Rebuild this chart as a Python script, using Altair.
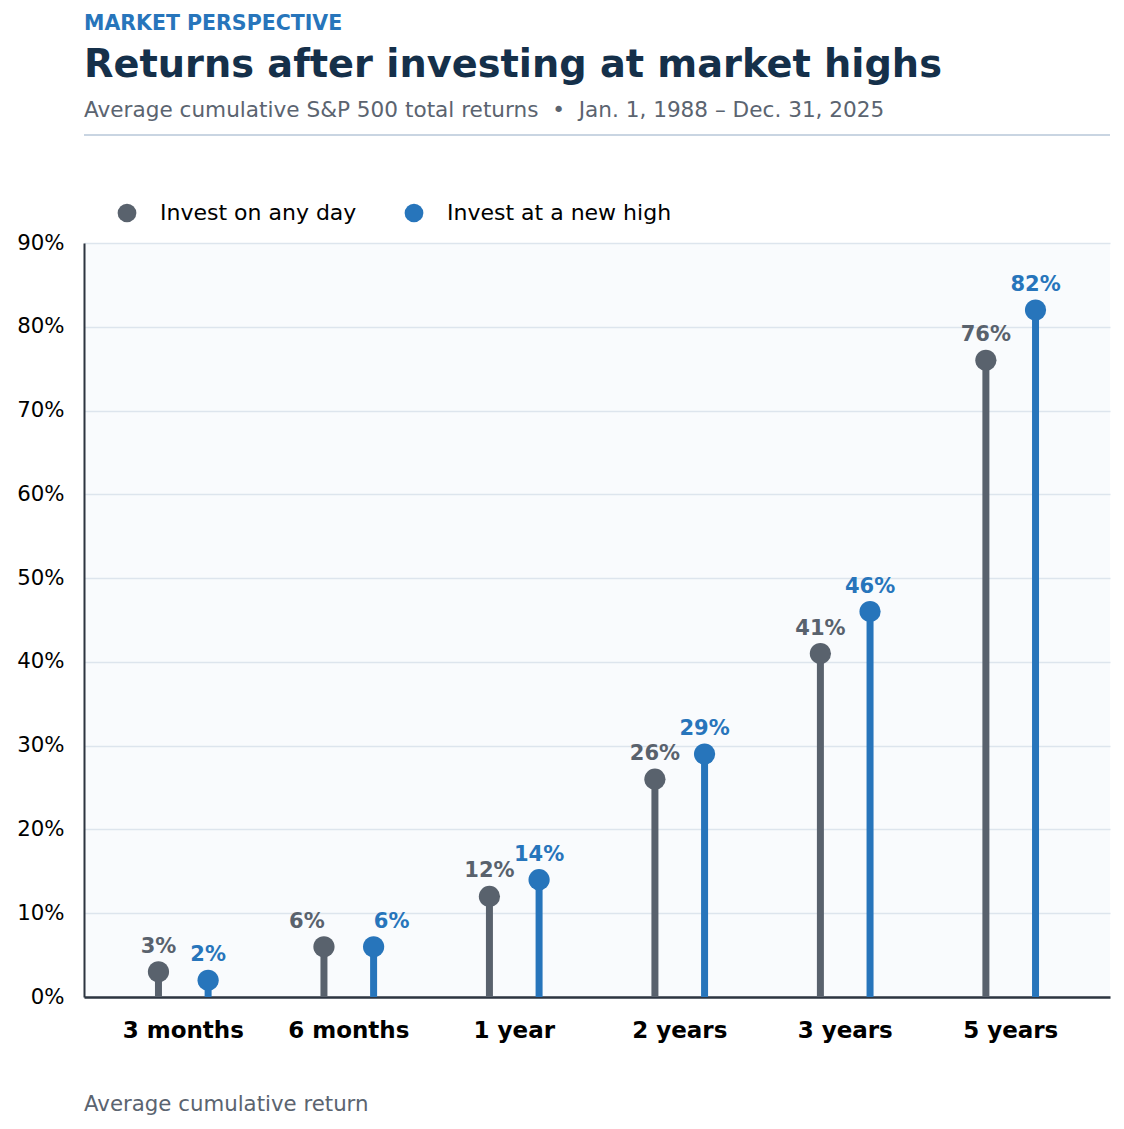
import altair as alt
import pandas as pd

periods = ["3 months", "6 months", "1 year", "2 years", "3 years", "5 years"]
series = ["Invest on any day", "Invest at a new high"]
any_day = [3, 6, 12, 26, 41, 76]
new_high = [2, 6, 14, 29, 46, 82]
y_ticks = [0, 10, 20, 30, 40, 50, 60, 70, 80, 90]

kicker = "MARKET PERSPECTIVE"
title = "Returns after investing at market highs"
subtitle = "Average cumulative S&P 500 total returns\u00a0\u00a0\u2022\u00a0\u00a0Jan. 1, 1988 \u2013 Dec. 31, 2025"
footer = "Average cumulative return"

GREY = "#59626d"
BLUE = "#2775bb"
NAVY = "#15304a"
SUB = "#5b6470"
FONT = "DejaVu Sans"

rows = []
for p, a, h in zip(periods, any_day, new_high):
    rows.append({"period": p, "series": series[0], "value": a})
    rows.append({"period": p, "series": series[1], "value": h})
df = pd.DataFrame(rows)

W, H = 1026, 754

xenc = alt.X("period:N", sort=periods,
             scale=alt.Scale(paddingInner=0.4, paddingOuter=0.3),
             axis=alt.Axis(title=None, labelAngle=0, labelFontSize=23, labelFontWeight="bold",
                           labelColor="#000000", labelPadding=22, ticks=False, grid=False,
                           domainColor="#2d3540", domainWidth=2.5, labelFont=FONT))
xoff = alt.XOffset("series:N", sort=series, scale=alt.Scale(paddingInner=0, paddingOuter=0))
yenc = alt.Y("value:Q", scale=alt.Scale(domain=[0, 90], nice=False),
             axis=alt.Axis(title=None, values=y_ticks, labelExpr="datum.value + '%'",
                           labelFontSize=21.3, labelColor="#000000", labelPadding=20, ticks=False,
                           grid=True, gridColor="#dde5ed", gridWidth=1.5,
                           domainColor="#2d3540", domainWidth=2, labelFont=FONT))
legend = alt.Legend(title=None, orient="none", direction="horizontal",
                    legendX=32, legendY=-41, symbolType="circle",
                    symbolSize=350, symbolStrokeWidth=0, labelFontSize=22,
                    labelColor="#000000", labelOffset=22, columnPadding=46,
                    labelLimit=0, labelFont=FONT)
cscale = alt.Scale(domain=series, range=[GREY, BLUE])
color = alt.Color("series:N", scale=cscale, legend=legend)

base = alt.Chart(df).encode(x=xenc, xOffset=xoff, color=color)

stems = base.mark_rule(strokeWidth=7).encode(y=yenc, y2=alt.datum(0))

dots = base.mark_circle(size=450, opacity=1).encode(y=alt.Y("value:Q"))

lab_base = base.transform_calculate(lbl="datum.value + '%'")
LS = 21

labels_main = lab_base.transform_filter(alt.datum.period != "6 months").mark_text(
    fontSize=LS, fontWeight="bold", baseline="bottom", dy=-15, font=FONT).encode(
    y=alt.Y("value:Q"), text="lbl:N")

labels_6a = lab_base.transform_filter(
    (alt.datum.period == "6 months") & (alt.datum.series == series[0])).mark_text(
    fontSize=LS, fontWeight="bold", baseline="bottom", dy=-15, dx=-17, font=FONT).encode(
    y=alt.Y("value:Q"), text="lbl:N")

labels_6b = lab_base.transform_filter(
    (alt.datum.period == "6 months") & (alt.datum.series == series[1])).mark_text(
    fontSize=LS, fontWeight="bold", baseline="bottom", dy=-15, dx=18, font=FONT).encode(
    y=alt.Y("value:Q"), text="lbl:N")


def txt(s, y, size, color, weight="normal"):
    return alt.Chart(pd.DataFrame({"t": [s]})).mark_text(
        align="left", baseline="alphabetic", fontSize=size, fontWeight=weight,
        color=color, font=FONT).encode(
        text="t:N", x=alt.value(0), y=alt.value(y))


kick = txt(kicker, -213, 20.5, BLUE, "bold")
ttl = txt(title, -166, 38.3, NAVY, "bold")
sub = txt(subtitle, -126, 21.6, SUB)
foot = txt(footer, 868, 21.3, SUB)
divider = alt.Chart(pd.DataFrame({"a": [0]})).mark_rule(color="#c9d5e2", strokeWidth=2).encode(
    x=alt.value(0), x2=alt.value(W), y=alt.value(-108))

chart = alt.layer(stems, dots, labels_main, labels_6a, labels_6b, kick, ttl, sub, foot, divider).properties(
    width=W, height=H,
    autosize=alt.AutoSizeParams(type="none"),
    padding={"left": 76, "top": 235, "right": 4, "bottom": 118},
    background="#ffffff",
).configure_view(fill="#f9fbfd", stroke=None)

chart.save("out.html", embed_options={"renderer": "svg", "actions": False})
